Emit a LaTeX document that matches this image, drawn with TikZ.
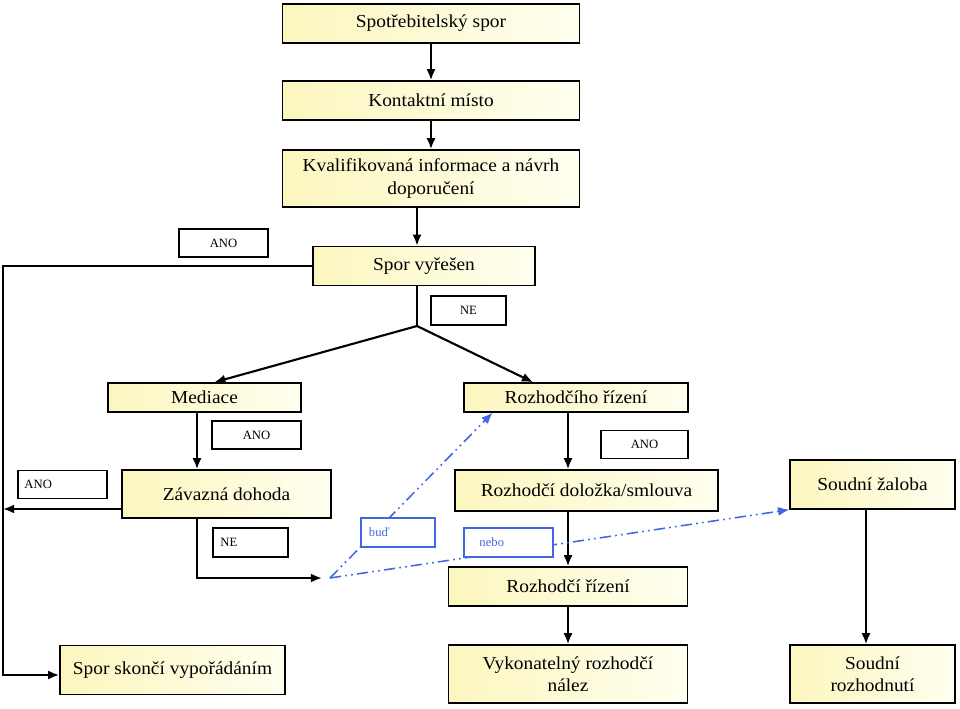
\documentclass[tikz,border=0pt]{standalone}
\usepackage{fontspec}
\setmainfont{Liberation Serif}
\newfontfamily\boxfont[FakeStretch=1.06]{Liberation Serif}
\usetikzlibrary{arrows.meta,calc}
\definecolor{boxyel}{RGB}{252,246,190}
\definecolor{boxlight}{RGB}{255,255,240}
\definecolor{noteblue}{RGB}{66,102,224}
\tikzstyle{flowbox}=[draw, line width=1pt, inner sep=2pt, align=center,
    left color=boxyel, right color=boxlight,
    font=\boxfont\fontsize{13}{16}\selectfont]
\tikzstyle{tag}=[draw, line width=0.9pt, fill=white, inner sep=3pt,
    minimum width=2.225cm, minimum height=0.7cm, font=\fontsize{9}{10}\selectfont]
\tikzstyle{note}=[tag, draw=noteblue, text=noteblue, text width=1.45cm, align=left]
\tikzstyle{arr}=[line width=1.5pt, -{Latex[length=8pt,width=6.5pt]}]
\tikzstyle{choice}=[noteblue, line width=1.1pt,
    dash pattern=on 8pt off 3pt on 1.2pt off 3pt on 1.2pt off 3pt,
    -{Latex[length=8pt,width=6.5pt]}]
\newcommand{\flowbox}{\node[flowbox]}
\newcommand{\tag}{\node[tag]}

\begin{document}
\begin{tikzpicture}[x=0.025cm, y=-0.025cm]
\useasboundingbox (0,0) rectangle (960,709);
% main boxes
\flowbox[minimum width=7.425cm, minimum height=0.975cm] (sp) at (431,23.5) {Spotřebitelský spor};
\flowbox[minimum width=7.425cm, minimum height=0.975cm] (km) at (431,100.5) {Kontaktní místo};
\flowbox[minimum width=7.425cm, minimum height=1.425cm] (kv) at (431,178.5) {Kvalifikovaná informace a návrh\\doporučení};
\flowbox[minimum width=5.55cm, minimum height=0.975cm] (sv) at (424,266) {Spor vyřešen};
\flowbox[minimum width=4.825cm, minimum height=0.725cm] (med) at (204.5,397.5) {Mediace};
\flowbox[minimum width=5.6cm, minimum height=0.725cm] (roz) at (576,397.5) {Rozhodčího řízení};
\flowbox[minimum width=5.225cm, minimum height=1.2cm] (zd) at (226.5,494) {Závazná dohoda};
\flowbox[minimum width=6.575cm, minimum height=1.025cm] (dol) at (586.5,490.5) {Rozhodčí doložka/smlouva};
\flowbox[minimum width=4.125cm, minimum height=1.225cm] (sz) at (872.5,484.5) {Soudní žaloba};
\flowbox[minimum width=5.975cm, minimum height=0.975cm] (rr) at (568,586.5) {Rozhodčí řízení};
\flowbox[minimum width=5.625cm, minimum height=1.225cm] (spk) at (172.5,670) {Spor skončí vypořádáním};
\flowbox[minimum width=5.975cm, minimum height=1.45cm] (vrn) at (568,674) {Vykonatelný rozhodčí\\nález};
\flowbox[minimum width=4.125cm, minimum height=1.45cm] (sr) at (872.5,674) {Soudní\\rozhodnutí};
% answer tags
\tag (ano1) at (223.5,243) {ANO};
\tag[minimum width=1.875cm, minimum height=0.725cm] (ne1) at (468.5,310.5) {NE};
\tag (ano2) at (256.5,435) {ANO};
\tag[text width=1.9cm, align=left] (ano3) at (62.5,484.5) {ANO};
\tag[minimum width=1.875cm, minimum height=0.725cm, text width=1.5cm, align=left] (ne2) at (250.5,542.5) {NE};
\tag[minimum width=2.175cm] (ano4) at (644.5,444.5) {ANO};
% helper points
\coordinate (rail) at (3,0);
\coordinate (split) at (417,326);
\coordinate (mx) at (197,0);
\coordinate (rx) at (568,0);
\coordinate (sx) at (866,0);
\coordinate (hub) at (322,578);
\coordinate (fork) at (330,578);
\coordinate (spkin) at ([yshift=-0.125cm]spk.west);
\coordinate (zdout) at ([yshift=-0.375cm]zd.west);
% connectors
\draw[arr] (sp) -- (km);
\draw[arr] (km) -- (kv);
\draw[arr] (kv.south -| split) -- (sv.north -| split);
\draw[line width=1.5pt] (sv.south -| split) -- (split);
\draw[arr] (split) -- ($(med.north west)!0.55!(med.north east)$);
\draw[arr] (split) -- ($(roz.north west)!0.31!(roz.north east)$);
\draw[arr] (sv.west) -- (sv.west -| rail) -- (rail |- spkin) -- (spkin);
\draw[arr] (med.south -| mx) -- (zd.north -| mx);
\draw[arr] (zdout) -- (zdout -| rail);
\draw[arr] (zd.south -| mx) -- (mx |- hub) -- (hub);
\draw[arr] (roz.south -| rx) -- (dol.north -| rx);
\draw[arr] (dol.south -| rx) -- (rr.north);
\draw[arr] (rr) -- (vrn);
\draw[arr] (sz.south -| sx) -- (sr.north -| sx);
\draw[choice] (fork) -- ($(roz.south west)!0.13!(roz.south east)$);
\draw[choice] (fork) -- (sz.south west);
% blue notes over the lines
\node[note, minimum width=1.85cm, minimum height=0.725cm] (bud) at (398,532.5) {buď};
\node[note, minimum height=0.725cm] (nebo) at (508.5,542.5) {nebo};
\end{tikzpicture}
\end{document}
